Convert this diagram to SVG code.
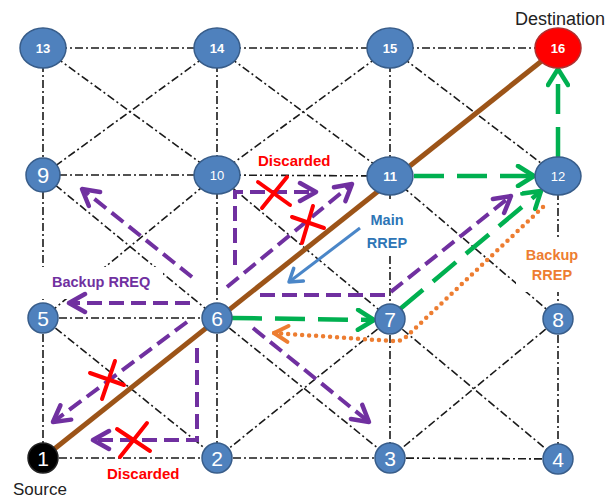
<svg xmlns="http://www.w3.org/2000/svg" width="614" height="499" viewBox="0 0 614 499">
<style>
.g{stroke:#1a1a1a;stroke-width:1.6;stroke-dasharray:8 3 2 3;fill:none}
.box{fill:#fff;stroke:none}
.nd{fill:#4f81bd;stroke:#385d8a;stroke-width:1.5}
.tb{font-family:"Liberation Sans",Arial,sans-serif;font-size:13px;font-weight:bold;fill:#fff;text-anchor:middle}
.tr{font-family:"Liberation Sans",Arial,sans-serif;font-size:13px;fill:#fff;text-anchor:middle}
.ts{font-family:"Liberation Sans",Arial,sans-serif;font-size:21px;fill:#fff;text-anchor:middle}
.grn{stroke:#00b050;stroke-width:4.5;stroke-dasharray:30 13;fill:none}
.pur{stroke:#7030a0;stroke-width:4;stroke-dasharray:15 7;fill:none}
.org{stroke:#ed7d31;stroke-width:4.5;stroke-dasharray:0 7;stroke-linecap:round;fill:none}
.blu{stroke:#4a86c8;stroke-width:3;fill:none}
.x{stroke:#ff0000;stroke-width:4;stroke-linecap:round}
.lbl{font-family:"Liberation Sans",Arial,sans-serif;font-weight:bold}
</style>
<defs>
<marker id="mg" viewBox="0 0 24 24" refX="20" refY="12" markerWidth="24" markerHeight="24" markerUnits="userSpaceOnUse" orient="auto"><path d="M4,2 L20,12 L4,22" fill="none" stroke="#00b050" stroke-width="4.5" stroke-linecap="round" stroke-linejoin="round"/></marker>
<marker id="mp" viewBox="0 0 24 24" refX="20" refY="12" markerWidth="24" markerHeight="24" markerUnits="userSpaceOnUse" orient="auto"><path d="M4,3 L20,12 L4,21" fill="none" stroke="#7030a0" stroke-width="4.5" stroke-linecap="round" stroke-linejoin="round"/></marker>
<marker id="mb" viewBox="0 0 24 24" refX="20" refY="12" markerWidth="24" markerHeight="24" markerUnits="userSpaceOnUse" orient="auto"><path d="M8,4 L20,12 L8,20" fill="none" stroke="#4a86c8" stroke-width="3.5" stroke-linecap="round" stroke-linejoin="round"/></marker>
<marker id="mo" viewBox="0 0 24 24" refX="20" refY="12" markerWidth="24" markerHeight="24" markerUnits="userSpaceOnUse" orient="auto"><path d="M6,4 L20,12 L6,20" fill="none" stroke="#ed7d31" stroke-width="4" stroke-linecap="round" stroke-linejoin="round"/></marker>
</defs>
<rect width="614" height="499" fill="#fff"/>
<g id="connectors">
<g id="grid">
<line class="g" x1="43" y1="48" x2="217" y2="48"/>
<line class="g" x1="217" y1="48" x2="390" y2="48"/>
<line class="g" x1="390" y1="48" x2="558" y2="48"/>
<line class="g" x1="43" y1="175" x2="217" y2="175"/>
<line class="g" x1="217" y1="175" x2="390" y2="176"/>
<line class="g" x1="43" y1="318" x2="217" y2="318"/>
<line class="g" x1="43" y1="458" x2="217" y2="458"/>
<line class="g" x1="217" y1="458" x2="390" y2="458"/>
<line class="g" x1="390" y1="458" x2="558" y2="459"/>
<line class="g" x1="43" y1="48" x2="43" y2="175"/>
<line class="g" x1="43" y1="175" x2="43" y2="318"/>
<line class="g" x1="43" y1="318" x2="43" y2="458"/>
<line class="g" x1="217" y1="48" x2="217" y2="175"/>
<line class="g" x1="217" y1="175" x2="217" y2="318"/>
<line class="g" x1="217" y1="318" x2="217" y2="458"/>
<line class="g" x1="390" y1="48" x2="390" y2="176"/>
<line class="g" x1="390" y1="176" x2="390" y2="319"/>
<line class="g" x1="390" y1="319" x2="390" y2="458"/>
<line class="g" x1="558" y1="176" x2="558" y2="319"/>
<line class="g" x1="558" y1="319" x2="558" y2="459"/>
<line class="g" x1="43" y1="48" x2="217" y2="175"/>
<line class="g" x1="217" y1="48" x2="43" y2="175"/>
<line class="g" x1="217" y1="48" x2="390" y2="176"/>
<line class="g" x1="390" y1="48" x2="217" y2="175"/>
<line class="g" x1="390" y1="48" x2="558" y2="176"/>
<line class="g" x1="43" y1="175" x2="217" y2="318"/>
<line class="g" x1="217" y1="175" x2="43" y2="318"/>
<line class="g" x1="217" y1="175" x2="390" y2="319"/>
<line class="g" x1="390" y1="176" x2="558" y2="319"/>
<line class="g" x1="43" y1="318" x2="217" y2="458"/>
<line class="g" x1="217" y1="318" x2="390" y2="458"/>
<line class="g" x1="390" y1="319" x2="217" y2="458"/>
<line class="g" x1="390" y1="319" x2="558" y2="459"/>
<line class="g" x1="558" y1="319" x2="390" y2="458"/>
</g>
<g id="label-boxes">
<rect class="box" x="38" y="267" width="125" height="32"/>
<rect class="box" x="358" y="199" width="57" height="57"/>
<rect class="box" x="516" y="240" width="74" height="52"/>
</g>
<line id="main-route" x1="43" y1="458" x2="558" y2="48" stroke="#9c5418" stroke-width="5"/>
<g id="rreq">
<path class="pur" d="M192,277 L82,189" marker-end="url(#mp)"/>
<path class="pur" d="M190,303 L69,303" marker-end="url(#mp)"/>
<path class="pur" d="M187,322 L53,422" marker-end="url(#mp)"/>
<path class="pur" d="M197,348 L197,440 L93,440" marker-end="url(#mp)"/>
<path class="pur" d="M253,328 L369,422" marker-end="url(#mp)"/>
<path class="pur" d="M235,265 L235,192 L316,192" marker-end="url(#mp)"/>
<path class="pur" d="M227,287 L352,184" marker-end="url(#mp)"/>
<path class="pur" d="M260,295 L387,295 L511,196" marker-end="url(#mp)"/>
</g>
<g id="rrep">
<path class="grn" d="M232,318 L374,320" marker-end="url(#mg)"/>
<path class="grn" d="M414,176 L534,176" marker-end="url(#mg)"/>
<path class="grn" d="M558,157 L558,69" marker-end="url(#mg)"/>
<path class="grn" d="M400,309 L541,191" marker-end="url(#mg)"/>
<path class="blu" d="M360,228 L289,282" marker-end="url(#mb)"/>
<path class="org" d="M543,207 L405,338 Q400,342 392,341 L274,333" marker-end="url(#mo)"/>
</g>
</g>
<g id="n13"><ellipse class="nd" cx="43" cy="48" rx="23" ry="20"/><text class="tb" x="43" y="52.5">13</text></g>
<g id="n14"><ellipse class="nd" cx="217" cy="48" rx="23" ry="20"/><text class="tb" x="217" y="52.5">14</text></g>
<g id="n15"><ellipse class="nd" cx="390" cy="48" rx="23" ry="20"/><text class="tb" x="390" y="52.5">15</text></g>
<g id="n16"><ellipse cx="558" cy="48" rx="23" ry="20" fill="#ff0000" stroke="#b03030" stroke-width="1.5"/><text class="tb" x="558" y="52.5">16</text></g>
<g id="n9"><circle class="nd" cx="43" cy="175" r="17"/><text class="ts" x="43" y="182.5" style="font-size:22px">9</text></g>
<g id="n10"><ellipse class="nd" cx="217" cy="175" rx="23" ry="19"/><text class="tr" x="217" y="179.5">10</text></g>
<g id="n11"><ellipse class="nd" cx="390" cy="176" rx="23" ry="19"/><text class="tb" x="390" y="180.5">11</text></g>
<g id="n12"><ellipse class="nd" cx="558" cy="176" rx="23" ry="19"/><text class="tr" x="558" y="180.5">12</text></g>
<g id="n5"><circle class="nd" cx="43" cy="318" r="15"/><text class="ts" x="43" y="325.5">5</text></g>
<g id="n6"><circle class="nd" cx="217" cy="318" r="15"/><text class="ts" x="217" y="325.5">6</text></g>
<g id="n7"><circle class="nd" cx="390" cy="319" r="15"/><text class="ts" x="390" y="326.5">7</text></g>
<g id="n8"><circle class="nd" cx="558" cy="319" r="15"/><text class="ts" x="558" y="326.5">8</text></g>
<g id="n1"><circle cx="43" cy="458" r="15" fill="#000" stroke="#222" stroke-width="1.5"/><text class="ts" x="43" y="465.5">1</text></g>
<g id="n2"><circle class="nd" cx="217" cy="458" r="15"/><text class="ts" x="217" y="465.5">2</text></g>
<g id="n3"><circle class="nd" cx="390" cy="458" r="15"/><text class="ts" x="390" y="465.5">3</text></g>
<g id="n4"><circle class="nd" cx="558" cy="459" r="15"/><text class="ts" x="558" y="466.5">4</text></g>
<g id="discards">
<line class="x" x1="258" y1="182" x2="290" y2="205"/><line class="x" x1="287" y1="177" x2="262" y2="208"/>
<line class="x" x1="292" y1="217" x2="324" y2="228"/><line class="x" x1="313" y1="206" x2="302" y2="243"/>
<line class="x" x1="90" y1="373" x2="124" y2="385"/><line class="x" x1="115" y1="361" x2="102" y2="399"/>
<line class="x" x1="117" y1="429" x2="150" y2="451"/><line class="x" x1="147" y1="423" x2="120" y2="457"/>
</g>
<g id="labels">
<text x="560" y="25" font-family="'Liberation Sans',Arial,sans-serif" font-size="18" fill="#222" text-anchor="middle">Destination</text>
<text x="13" y="495" font-family="'Liberation Sans',Arial,sans-serif" font-size="17" fill="#222">Source</text>
<text class="lbl" x="258" y="166" font-size="15" fill="#ff0000">Discarded</text>
<text class="lbl" x="107" y="479" font-size="15" fill="#ff0000">Discarded</text>
<text class="lbl" x="52" y="287" font-size="14.5" fill="#7030a0">Backup RREQ</text>
<text class="lbl" x="387" y="225" font-size="14.5" fill="#2e75b6" text-anchor="middle">Main</text>
<text class="lbl" x="387" y="248" font-size="14.5" fill="#2e75b6" text-anchor="middle">RREP</text>
<text class="lbl" x="552" y="260" font-size="14.5" fill="#ed7d31" text-anchor="middle">Backup</text>
<text class="lbl" x="552" y="280" font-size="14.5" fill="#ed7d31" text-anchor="middle">RREP</text>
</g>
</svg>
